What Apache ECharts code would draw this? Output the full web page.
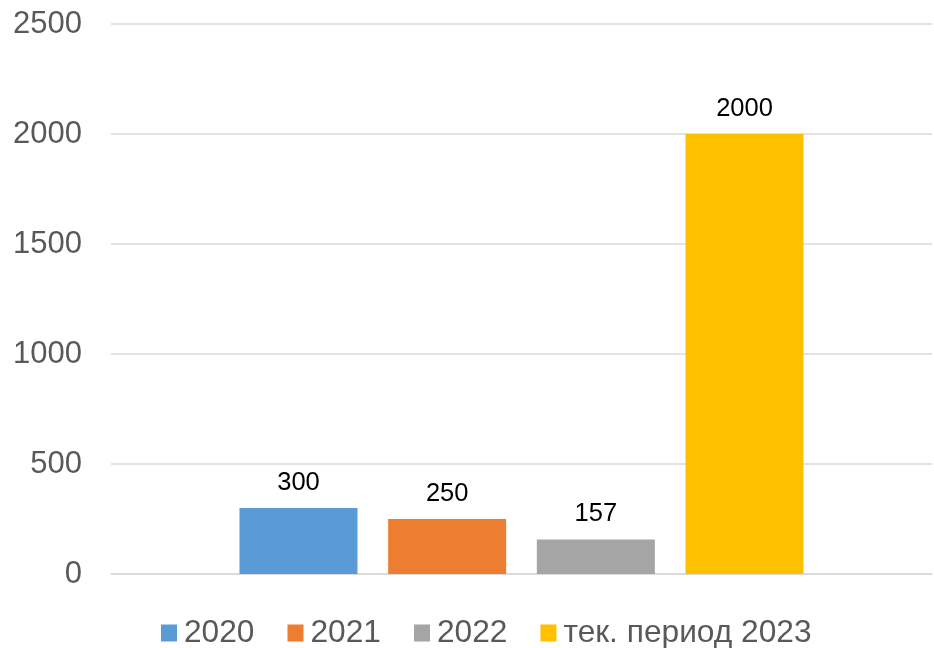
<!DOCTYPE html>
<html><head><meta charset="utf-8">
<script src="https://cdn.jsdelivr.net/npm/echarts@6/dist/echarts.min.js"></script>
<style>html,body{margin:0;padding:0;background:#fff}#c{width:934px;height:648px}</style>
</head><body><div id="c"></div>
<script>
const categories = [''];
const seriesNames = ['2020', '2021', '2022', 'тек. период 2023'];
const values = [300, 250, 157, 2000];
const colors = ['#5b9bd5', '#ed7d31', '#a5a5a5', '#ffc000'];
const yTicks = [0, 500, 1000, 1500, 2000, 2500];

const font = '"Liberation Sans", Arial, sans-serif';
const chart = echarts.init(document.getElementById('c'), null, {renderer: 'canvas'});
chart.setOption({
  animation: false,
  backgroundColor: '#fff',
  textStyle: {fontFamily: font},
  grid: {left: 111, right: 2, top: 24, bottom: 74, containLabel: false},
  legend: {
    left: 161, top: 617, padding: 0,
    itemWidth: 16, itemHeight: 17, itemGap: 33,
    icon: 'rect',
    textStyle: {fontSize: 31.7, color: '#595959', fontFamily: font, padding: [0, 0, 0, 2]},
    data: seriesNames
  },
  xAxis: {
    type: 'category', data: categories,
    axisLine: {show: true, lineStyle: {color: '#d9d9d9', width: 1.5}},
    axisTick: {show: false}, axisLabel: {show: false}
  },
  yAxis: {
    type: 'value', min: yTicks[0], max: yTicks[yTicks.length - 1], interval: 500,
    axisLine: {show: false}, axisTick: {show: false},
    axisLabel: {fontSize: 31, color: '#595959', margin: 29, fontFamily: font, formatter: v => String(v)},
    splitLine: {lineStyle: {color: '#d9d9d9', width: 1.5}}
  },
  series: seriesNames.map((n, i) => ({
    name: n, type: 'bar',
    data: [values[i]],
    barWidth: 118, barGap: '26%',
    itemStyle: {color: colors[i]},
    label: {show: true, position: 'top', distance: 12, fontSize: 25.5, color: '#000', fontFamily: font}
  }))
});
</script></body></html>
